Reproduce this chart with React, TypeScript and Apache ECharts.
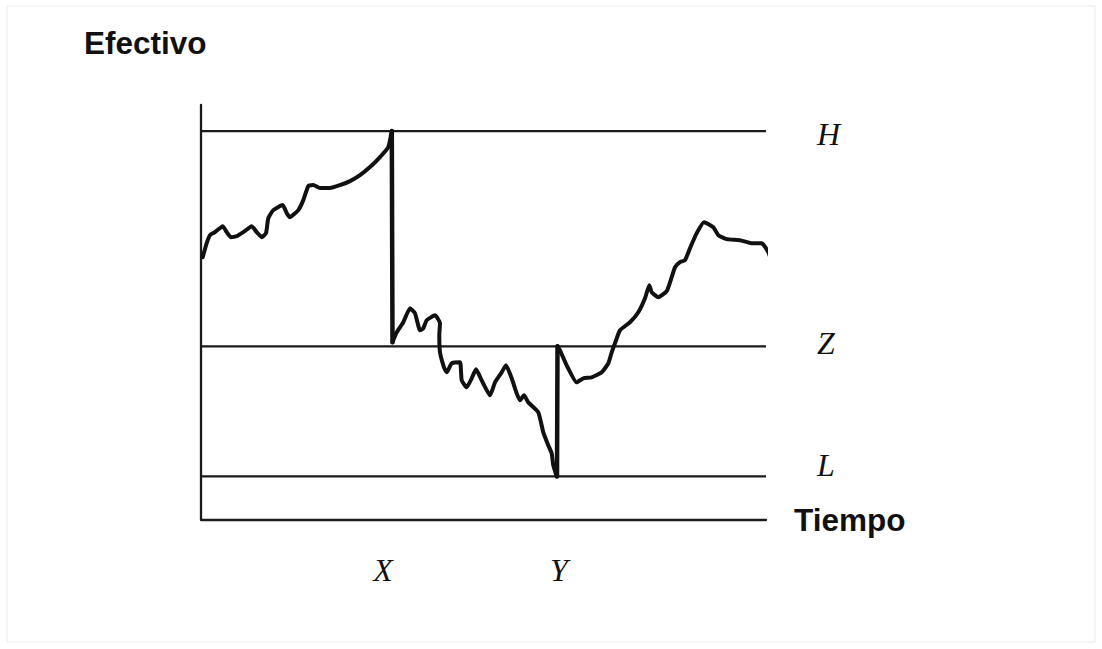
import React, { useEffect, useRef } from "react";
import * as echarts from "echarts";

// Time (x) and cash (y) units; axis spans 0..565 in time, 0..414 in cash
const timeMax = 565;
const cashMax = 414;

// Control limits
const levelNames = ["H", "Z", "L"];
const levelValues = [388, 173, 43];

// Cash balance path, phase 1 (rises until upper limit H)
const phase1: number[][] = [
  [1.7, 262], [5.7, 276], [9, 284], [14, 287], [21.7, 293], [25.7, 287], [29.7, 282],
  [35.7, 283], [42.3, 287], [50.7, 293], [55.7, 287], [60.7, 282], [65, 286], [67.3, 301],
  [72.3, 309], [81.7, 314], [85.7, 306], [89, 302], [97.3, 309], [102.3, 319], [107.3, 333],
  [112.3, 334], [119, 331], [129, 331], [139, 334], [149, 338], [159, 344], [169, 352],
  [179, 362], [187.3, 372], [190, 384], [190.8, 388],
];
// Drop from H back to Z at time X
const dropX: number[][] = [[190.8, 388], [191.5, 177]];
// Phase 2 (falls to lower limit L)
const phase2: number[][] = [
  [191.5, 177], [195.7, 187], [202.3, 197], [209, 211], [214, 206], [219, 189], [222.3, 191],
  [225.7, 199], [234, 204], [239, 196], [238.3, 184], [239, 167], [243, 152], [245.7, 147],
  [250.7, 156], [259, 157], [260.7, 139], [265.7, 132], [270.7, 141], [275, 150], [280.7, 139],
  [289, 124], [294, 137], [300.7, 147], [305, 154], [310.7, 141], [315.7, 126], [319, 119],
  [323, 124], [327.3, 117], [337.3, 107], [342.3, 87], [347.3, 74], [350.7, 66], [352.3, 54],
  [355.7, 43],
];
// Rise from L back to Z at time Y
const riseY: number[][] = [[356, 43], [356.5, 173]];
// Phase 3
const phase3: number[][] = [
  [356.5, 173], [359, 169], [365.7, 154], [375.7, 137], [382.3, 141], [390.7, 142], [400.7, 147],
  [407.3, 156], [410.7, 167], [414, 176], [419, 189], [429, 197], [437.3, 207], [444, 221],
  [448.3, 234], [450.7, 227], [457.3, 222], [465.7, 228], [470.7, 242], [474, 252], [479, 257],
  [484, 259], [489, 271], [495.7, 286], [503, 297], [512.3, 292], [517.3, 284], [525.7, 280],
  [539, 279], [550.7, 276], [560.7, 276], [567.3, 267], [572.3, 252],
];

const yTitle = "Efectivo";
const xTitle = "Tiempo";
const timeMarks = ["X", "Y"];

export default function App() {
  const ref = useRef<HTMLDivElement>(null);
  useEffect(() => {
    if (!ref.current) return;
    const chart = echarts.init(ref.current, null, { renderer: "svg" });
    const ink = "#111";
    const italic = {
      fontFamily: "Liberation Serif",
      fontStyle: "italic" as const,
      fontSize: 32,
      color: ink,
    };
    const levelSeries = levelNames.map((name, i) => ({
      type: "line",
      name,
      data: [[0, levelValues[i]], [timeMax, levelValues[i]]],
      symbol: "none",
      silent: true,
      lineStyle: { color: "#1a1a1a", width: 2.3 },
      endLabel: {
        show: true,
        formatter: name,
        distance: 51,
        offset: [0, [3, -3, -11][i]],
        ...italic,
      },
    }));
    const pathStyle = { color: ink, width: 4, cap: "round", join: "round" };
    const pathSeries = [phase1, phase2, phase3].map((d) => ({
      type: "line",
      data: d,
      symbol: "none",
      smooth: 0.15,
      clip: false,
      silent: true,
      lineStyle: pathStyle,
    }));
    const jumpSeries = [dropX, riseY].map((d) => ({
      type: "line",
      data: d,
      symbol: "none",
      clip: false,
      silent: true,
      lineStyle: { color: ink, width: 4.5, cap: "round" },
    }));
    const axisStyle = { show: true, lineStyle: { color: "#1a1a1a", width: 2.3 } };
    chart.setOption({
      animation: false,
      backgroundColor: "#fff",
      grid: { left: 201, right: 1102 - 766, top: 105, bottom: 649 - 519.5 },
      xAxis: {
        type: "value",
        min: 0,
        max: timeMax,
        axisLine: axisStyle,
        axisTick: { show: false },
        axisLabel: { show: false },
        splitLine: { show: false },
      },
      yAxis: {
        type: "value",
        min: 0,
        max: cashMax,
        axisLine: axisStyle,
        axisTick: { show: false },
        axisLabel: { show: false },
        splitLine: { show: false },
      },
      graphic: [
        {
          type: "rect",
          shape: { x: 7, y: 6, width: 1088, height: 636 },
          style: { fill: "none", stroke: "#ececec", lineWidth: 1 },
          silent: true,
        },
        {
          type: "text",
          x: 84,
          y: 43,
          style: {
            text: yTitle,
            fontFamily: "Liberation Sans",
            fontWeight: "bold",
            fontSize: 31.5,
            fill: ink,
            verticalAlign: "middle",
          },
        },
        {
          type: "text",
          x: 794,
          y: 520,
          style: {
            text: xTitle,
            fontFamily: "Liberation Sans",
            fontWeight: "bold",
            fontSize: 31.5,
            fill: ink,
            verticalAlign: "middle",
          },
        },
        ...timeMarks.map((t, i) => ({
          type: "text",
          x: [383, 559][i],
          y: 570,
          style: {
            text: t,
            fontFamily: "Liberation Serif",
            fontStyle: "italic",
            fontSize: 32,
            fill: ink,
            align: "center",
            verticalAlign: "middle",
          },
        })),
      ],
      series: [...levelSeries, ...jumpSeries, ...pathSeries],
    });
    return () => chart.dispose();
  }, []);
  return (
    <div
      ref={ref}
      style={{ position: "fixed", left: 0, top: 0, width: 1102, height: 649 }}
    />
  );
}
